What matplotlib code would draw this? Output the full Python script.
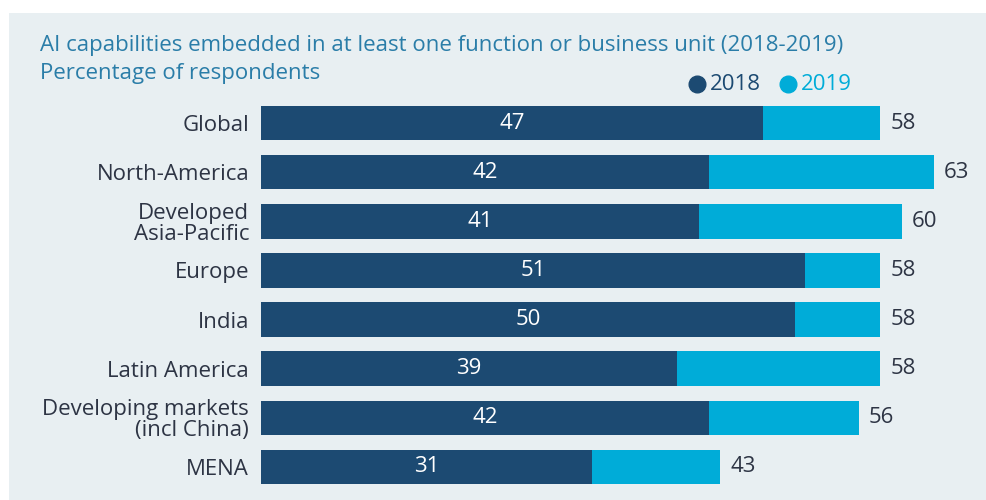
import numpy as np
import matplotlib.pyplot as plt
from matplotlib.patches import Rectangle
from matplotlib.lines import Line2D

regions = ["Global", "North-America", "Developed\nAsia-Pacific", "Europe", "India",
           "Latin America", "Developing markets\n(incl China)", "MENA"]
vals_2018 = [47, 42, 41, 51, 50, 39, 42, 31]
vals_2019 = [58, 63, 60, 58, 58, 58, 56, 43]

c18 = "#1c4a72"
c19 = "#00acd8"
bg = "#e8eff2"
txt = "#2d3444"
title_c = "#2a7da8"
fs = 16

plt.rcParams["font.family"] = ["Open Sans", "DejaVu Sans"]

fig = plt.figure(figsize=(9.87, 5.0), dpi=100)
fig.patch.set_facecolor("white")
fig.patches.append(Rectangle((9 / 987, 0), 1 - 9 / 987, 1 - 13 / 500, transform=fig.transFigure,
                             facecolor=bg, edgecolor="none", zorder=-10))

ax = fig.add_axes([261 / 987, 1 - 496.4 / 500, 1 - 261 / 987, (496.4 - 88.7) / 500])
ax.set_facecolor("none")
y = np.arange(len(regions))
ax.barh(y, vals_2019, height=0.7, color=c19, zorder=1)
ax.barh(y, vals_2018, height=0.7, color=c18, zorder=2)
ax.set_xlim(0, 68)
ax.set_ylim(7.6, -0.7)

for i, (a, b) in enumerate(zip(vals_2018, vals_2019)):
    ax.text(a / 2, i, str(a), color="white", ha="center", va="center", fontsize=fs, zorder=3)
    ax.text(b + 0.95, i, str(b), color=txt, ha="left", va="center", fontsize=fs)

ax.set_yticks(y)
ax.set_yticklabels(regions, fontsize=fs, color=txt, linespacing=1.0)
ax.tick_params(axis="y", length=0, pad=8.5)
ax.set_xticks([])
for s in ax.spines.values():
    s.set_visible(False)

fig.text(40 / 987, 1 - 45 / 500, "AI capabilities embedded in at least one function or business unit (2018-2019)",
         color=title_c, fontsize=fs, va="center", ha="left")
fig.text(40 / 987, 1 - 74 / 500, "Percentage of respondents", color=title_c, fontsize=fs, va="center", ha="left")

# legend
ly = 1 - 84 / 500
for cx, label, col in [(697, "2018", c18), (788, "2019", c19)]:
    fig.add_artist(Line2D([cx / 987], [ly], marker="o", markersize=12, color=col,
                          linestyle="none", transform=fig.transFigure))
    fig.text((cx + 13) / 987, ly, label, color=col, fontsize=fs, va="center", ha="left")

fig.savefig("out.png", dpi=100)
